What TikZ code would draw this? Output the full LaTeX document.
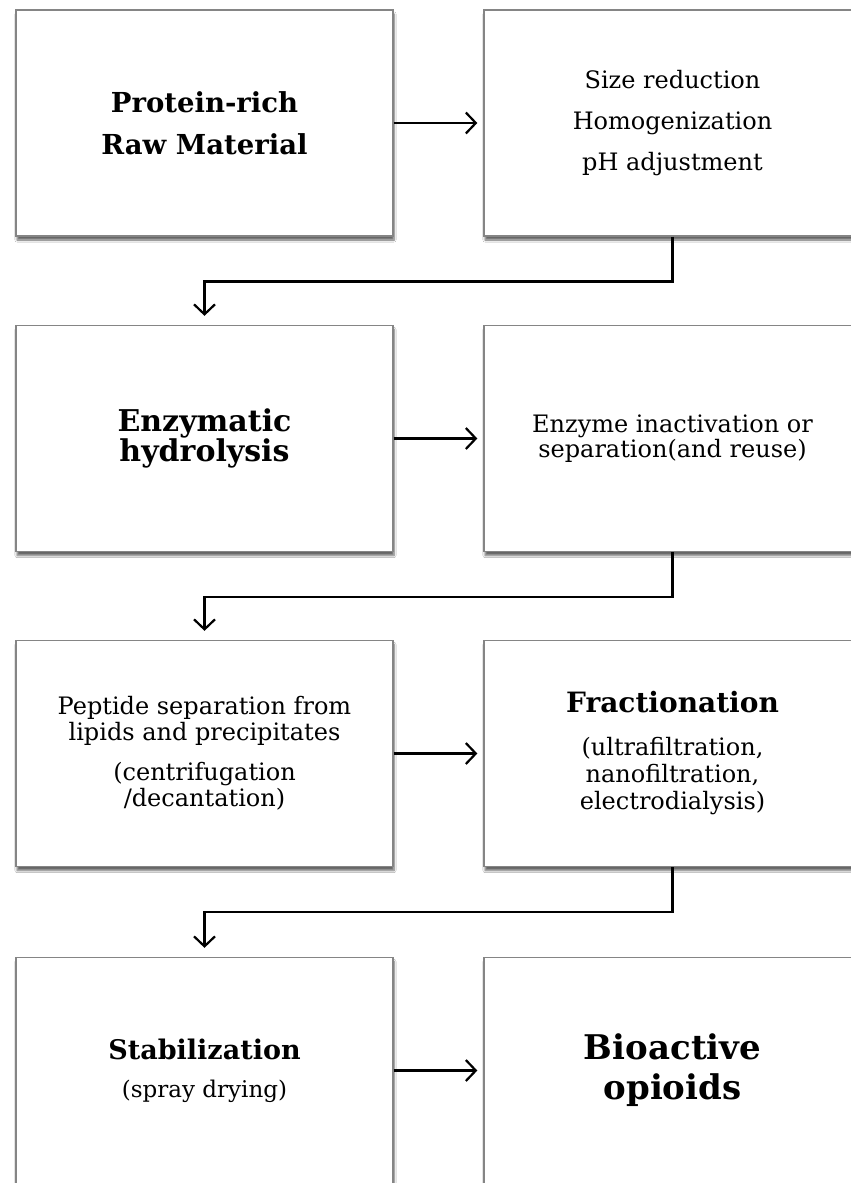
\documentclass[tikz,border=0pt]{standalone}
\usepackage{fontspec}
\setmainfont{DejaVu Serif}
\usetikzlibrary{arrows.meta,shadows.blur}
\definecolor{boxgray}{HTML}{858585}
\begin{document}
\begin{tikzpicture}[x=1pt,y=-1pt,
  box/.style={draw=boxgray, line width=1.3pt, fill=white,
    minimum width=377pt, minimum height=226pt, inner sep=0pt, align=center,
    blur shadow={shadow xshift=1pt, shadow yshift=-4pt, shadow blur steps=6, shadow opacity=60}},
  flow/.style={line width=2.4pt, -{Straight Barb[length=10pt,width=21pt,line width=2.2pt]}}]
\useasboundingbox (0,0) rectangle (851,1183);
\clip (0,0) rectangle (851,1183);
\fill[white] (0,0) rectangle (851,1183);
% row 1
\node[box, font=\bfseries\fontsize{27.5}{42}\selectfont] (raw) at (204.5,123) {Protein-rich\\Raw Material};
\node[box, font=\fontsize{24}{41}\selectfont] (pre) at (672.5,123) {Size reduction\\Homogenization\\pH adjustment};
% row 2
\node[box, font=\bfseries\fontsize{30}{30}\selectfont] (hyd) at (204.5,438.5) {Enzymatic\\hydrolysis};
\node[box, font=\fontsize{24}{25}\selectfont] (ina) at (672.5,438.5) {Enzyme inactivation or\\separation(and reuse)};
% row 3
\node[box, font=\fontsize{24}{26}\selectfont] (sep) at (204.5,753.5) {Peptide separation from\\lipids and precipitates\\[14pt](centrifugation\\/decantation)};
\node[box, font=\fontsize{24}{27}\selectfont] (fra) at (672.5,753.5) {{\bfseries\fontsize{28}{30}\selectfont Fractionation}\\[16pt](ultrafiltration,\\nanofiltration,\\electrodialysis)};
% row 4
\node[box, font=\fontsize{23}{38}\selectfont] (sta) at (204.5,1070.5) {{\bfseries\fontsize{27}{38}\selectfont Stabilization}\\(spray drying)};
\node[box, font=\bfseries\fontsize{34}{40}\selectfont] (bio) at (672.5,1070.5) {Bioactive\\opioids};
% connectors
\draw[flow, shorten >=6pt] (raw.east) -- (pre.west);
\draw[flow, shorten >=6pt] (hyd.east) -- (ina.west);
\draw[flow, shorten >=6pt] (sep.east) -- (fra.west);
\draw[flow, shorten >=6pt] (sta.east) -- (bio.west);
\draw[flow, shorten >=9pt] (pre.south) -- ++(0,45) -| (hyd.north);
\draw[flow, shorten >=9pt] (ina.south) -- ++(0,45) -| (sep.north);
\draw[flow, shorten >=9pt] (fra.south) -- ++(0,45) -| (sta.north);
\end{tikzpicture}
\end{document}
